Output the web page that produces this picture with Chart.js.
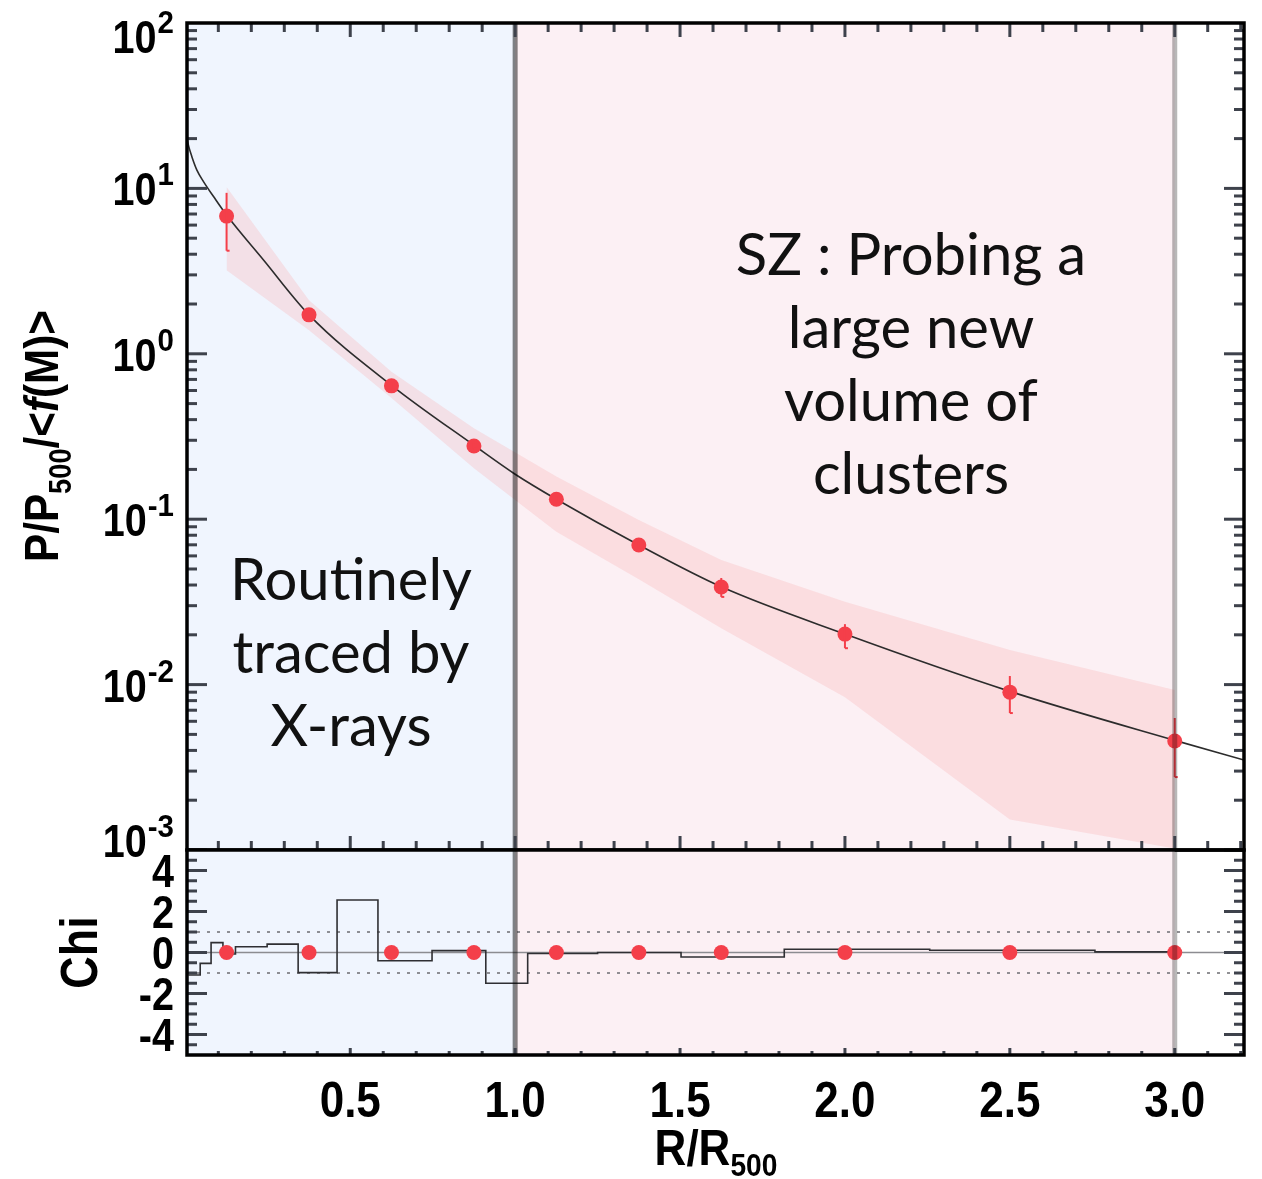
<!DOCTYPE html>
<html>
<head>
<meta charset="utf-8">
<script src="https://cdn.jsdelivr.net/npm/chart.js@4.4.1/dist/chart.umd.min.js"></script>
<style>
  body { margin: 0; background: #fff; }
  #wrap { position: relative; width: 1262px; height: 1179px; overflow: hidden; }
  canvas { position: absolute; left: 0; }
  #topChart { top: 0; }
  #chiChart { top: 840px; }
</style>
</head>
<body>
<div id="wrap">
  <canvas id="topChart" width="1262" height="860"></canvas>
  <canvas id="chiChart" width="1262" height="339"></canvas>
</div>
<script>
// ---- values ----
const X_MIN = 0.005, X_MAX = 3.21;
const Y_MIN = 1e-3, Y_MAX = 1e2;
const CHI_MIN = -5, CHI_MAX = 5;

// SZ stacked pressure points
const szRadius   = [0.125, 0.375, 0.625, 0.875, 1.125, 1.375, 1.625, 2.0, 2.5, 3.0];
const szPressure = [6.8, 1.72, 0.64, 0.277, 0.132, 0.0698, 0.0389, 0.0202, 0.0090, 0.00456];
const szErrLow   = [4.2, 1.62, 0.61, 0.266, 0.127, 0.067, 0.0339, 0.0166, 0.00673, 0.00276];
const szErrHigh  = [9.4, 1.82, 0.67, 0.288, 0.137, 0.073, 0.0441, 0.0232, 0.01127, 0.00628];

// best fit model profile
const modelRadius   = [0.006, 0.01, 0.02, 0.035, 0.055, 0.086, 0.125, 0.237, 0.375, 0.625, 0.875, 1.0, 1.125, 1.375, 1.625, 2.0, 2.5, 3.0, 3.21];
const modelPressure = [19.6, 18.0, 15.5, 12.9, 11.0, 8.9, 6.9, 3.69, 1.72, 0.645, 0.28, 0.187, 0.132, 0.0698, 0.039, 0.0202, 0.0091, 0.0046, 0.0035];

// dispersion envelope
const bandRadius = [0.125, 0.375, 0.625, 0.875, 1.125, 1.375, 1.625, 2.0, 2.5, 3.0];
const bandHigh   = [10.2, 2.11, 0.78, 0.355, 0.181, 0.0989, 0.0566, 0.0317, 0.0162, 0.00927];
const bandLow    = [3.2, 1.39, 0.54, 0.203, 0.084, 0.0433, 0.0219, 0.00838, 0.00153, 0.00102];

// X-ray residual histogram (bin edges + chi per bin)
const chiEdges  = [0.009, 0.045, 0.078, 0.114, 0.152, 0.248, 0.342, 0.46, 0.584, 0.748, 0.911, 1.038, 1.25, 1.503, 1.816, 2.257, 2.758, 3.009];
const chiValues = [-1.1, -0.53, 0.48, -0.07, 0.28, 0.41, -0.98, 2.56, -0.4, 0.09, -1.5, -0.05, 0.0, -0.22, 0.16, 0.11, 0.03];
const szChi     = [0, 0, 0, 0, 0, 0, 0, 0, 0, 0];
const chiRefLevels = [0, 1, -1];

const regionSplit = [1.0, 3.0];

const xTickValues = [0.5, 1.0, 1.5, 2.0, 2.5, 3.0];
const xTickLabels = ['0.5', '1.0', '1.5', '2.0', '2.5', '3.0'];
const yDecades = [2, 1, 0, -1, -2, -3];
const chiTickValues = [4, 2, 0, -2, -4];
const chiTickLabels = ['4', '2', '0', '-2', '-4'];

const xrayNote = ['Routinely', 'traced by', 'X-rays'];
const szNote = ['SZ : Probing a', 'large new', 'volume of', 'clusters'];

// ---- styles ----
const BLUE_BG = 'rgb(240,245,254)';
const PINK_BG = 'rgb(252,240,244)';
const BAND = 'rgba(249,180,183,0.32)';
const RED = 'rgb(244,63,74)';
const TICK = 'rgb(62,66,76)';
const AXFONT = '"Liberation Sans", Arial, sans-serif';
const NOTEFONT = 'Lato, "Open Sans", sans-serif';
const SQ = 0.88;   // narrow look of the axis lettering

function line(ctx, x0, y0, x1, y1) {
  ctx.beginPath(); ctx.moveTo(x0, y0); ctx.lineTo(x1, y1); ctx.stroke();
}

function squash(ctx, text, x, y, sq = SQ) {
  ctx.save(); ctx.translate(x, y); ctx.scale(sq, 1); ctx.fillText(text, 0, 0); ctx.restore();
}

// a run of [text, fontSize, dy, italic] pieces laid out along x
function runWidth(ctx, pieces) {
  let w = 0;
  pieces.forEach(p => {
    ctx.font = (p[3] ? 'italic ' : '') + 'bold ' + p[1] + 'px ' + AXFONT;
    w += ctx.measureText(p[0]).width * SQ;
  });
  return w;
}
function drawRun(ctx, pieces, start) {
  let cx = start;
  ctx.textAlign = 'left';
  pieces.forEach(p => {
    ctx.font = (p[3] ? 'italic ' : '') + 'bold ' + p[1] + 'px ' + AXFONT;
    squash(ctx, p[0], cx, p[2]);
    cx += ctx.measureText(p[0]).width * SQ;
  });
}

const regionsPlugin = {
  id: 'regions',
  beforeDatasetsDraw(chart) {
    const {ctx, chartArea: a, scales: {x}} = chart;
    const x1 = x.getPixelForValue(regionSplit[0]);
    const x3 = x.getPixelForValue(regionSplit[1]);
    ctx.save();
    ctx.fillStyle = BLUE_BG;
    ctx.fillRect(a.left, a.top, x1 - a.left, a.bottom - a.top);
    ctx.fillStyle = PINK_BG;
    ctx.fillRect(x1, a.top, x3 - x1, a.bottom - a.top);
    ctx.restore();
  }
};

function drawSplitLines(chart) {
  const {ctx, chartArea: a, scales: {x}} = chart;
  ctx.save();
  ctx.lineWidth = 5;
  ctx.strokeStyle = 'rgba(0,0,0,0.48)';
  line(ctx, x.getPixelForValue(regionSplit[0]), a.top, x.getPixelForValue(regionSplit[0]), a.bottom);
  ctx.strokeStyle = 'rgba(0,0,0,0.28)';
  line(ctx, x.getPixelForValue(regionSplit[1]), a.top, x.getPixelForValue(regionSplit[1]), a.bottom);
  ctx.restore();
}

const topOverlay = {
  id: 'topOverlay',
  afterDatasetsDraw(chart) {
    const {ctx, scales: {x, y}} = chart;
    ctx.save();
    ctx.strokeStyle = RED;
    ctx.lineWidth = 2;
    szRadius.forEach((r, i) => {
      const px = x.getPixelForValue(r);
      const lo = y.getPixelForValue(szErrLow[i]);
      line(ctx, px, y.getPixelForValue(szErrHigh[i]), px, lo);
      line(ctx, px, lo, px + 3, lo);
    });
    // annotations
    ctx.fillStyle = '#111';
    ctx.textAlign = 'center';
    ctx.font = '58px ' + NOTEFONT;
    xrayNote.forEach((t, i) => ctx.fillText(t, 351, 600 + i * 73));
    szNote.forEach((t, i) => ctx.fillText(t, 911, 275 + i * 73));
    ctx.restore();
    drawSplitLines(chart);
  }
};

const topAxes = {
  id: 'topAxes',
  afterDraw(chart) {
    const {ctx, chartArea: a, scales: {x, y}} = chart;
    ctx.save();
    ctx.strokeStyle = TICK;
    ctx.lineWidth = 3;
    for (let k = 1; k <= 32; k++) {
      const px = x.getPixelForValue(k / 10);
      const len = k % 5 === 0 ? 14 : 9;
      line(ctx, px, a.top, px, a.top + len);
      line(ctx, px, a.bottom, px, a.bottom - len);
    }
    for (let d = -3; d <= 1; d++) {
      for (let m = 1; m <= 9; m++) {
        const py = y.getPixelForValue(m * Math.pow(10, d));
        const len = m === 1 ? 20 : 10;
        line(ctx, a.left, py, a.left + len, py);
        line(ctx, a.right, py, a.right - len, py);
      }
    }
    ctx.strokeStyle = '#000';
    ctx.lineWidth = 3.5;
    ctx.strokeRect(a.left, a.top, a.right - a.left, a.bottom - a.top);

    // decade labels
    ctx.fillStyle = '#000';
    ctx.textAlign = 'right';
    yDecades.forEach((d, i) => {
      let py = y.getPixelForValue(Math.pow(10, d));
      if (i === 0) py += 13;
      if (i === yDecades.length - 1) py -= 10;
      ctx.font = 'bold 31px ' + AXFONT;
      const ew = ctx.measureText(String(d)).width * 0.95;
      squash(ctx, String(d), 174, py - 3, 0.95);
      ctx.font = 'bold 46px ' + AXFONT;
      squash(ctx, '10', 174 - ew - 1, py + 17, 0.86);
    });

    // y title
    ctx.translate(58, 436);
    ctx.rotate(-Math.PI / 2);
    const pieces = [['P/P', 48, 0], ['500', 31, 13], ['/<', 48, 0], ['f', 48, 0, true], ['(M)>', 48, 0]];
    drawRun(ctx, pieces, -runWidth(ctx, pieces) / 2);
    ctx.restore();
  }
};

const chiOverlay = {
  id: 'chiOverlay',
  afterDatasetsDraw(chart) { drawSplitLines(chart); }
};

const chiAxes = {
  id: 'chiAxes',
  afterDraw(chart) {
    const {ctx, chartArea: a, scales: {x, y}} = chart;
    ctx.save();
    ctx.strokeStyle = TICK;
    ctx.lineWidth = 3;
    for (let k = -9; k <= 9; k++) {
      const py = y.getPixelForValue(k / 2);
      const len = k % 4 === 0 ? 20 : 10;
      line(ctx, a.left, py, a.left + len, py);
      line(ctx, a.right, py, a.right - len, py);
    }
    for (let k = 1; k <= 32; k++) {
      const px = x.getPixelForValue(k / 10);
      const len = k % 5 === 0 ? 7 : 4;
      line(ctx, px, a.bottom, px, a.bottom - len);
    }
    ctx.strokeStyle = '#000';
    ctx.lineWidth = 3.5;
    ctx.strokeRect(a.left, a.top, a.right - a.left, a.bottom - a.top);

    ctx.fillStyle = '#000';
    ctx.font = 'bold 46px ' + AXFONT;
    ctx.textAlign = 'right';
    chiTickValues.forEach((v, i) => {
      squash(ctx, chiTickLabels[i], 174, y.getPixelForValue(v) + 16, 0.86);
    });
    ctx.textAlign = 'center';
    ctx.font = 'bold 50px ' + AXFONT;
    xTickValues.forEach((v, i) => {
      squash(ctx, xTickLabels[i], x.getPixelForValue(v), a.bottom + 62);
    });

    // x title
    const xt = [['R/R', 50, 0], ['500', 32, 11]];
    ctx.save();
    ctx.translate(716, a.bottom + 110);
    drawRun(ctx, xt, -runWidth(ctx, xt) / 2);
    ctx.restore();

    // chi title
    ctx.translate(97, y.getPixelForValue(0));
    ctx.rotate(-Math.PI / 2);
    const ct = [['Chi', 51, 0]];
    drawRun(ctx, ct, -runWidth(ctx, ct) / 2);
    ctx.restore();
  }
};

const xy = (xs, ys) => xs.map((v, i) => ({x: v, y: ys[i]}));

new Chart(document.getElementById('topChart'), {
  type: 'line',
  data: {
    datasets: [{
      data: xy(bandRadius, bandHigh),
      borderWidth: 0, pointRadius: 0, fill: false, tension: 0, order: 5
    }, {
      data: xy(bandRadius, bandLow),
      borderWidth: 0, pointRadius: 0, fill: '-1', backgroundColor: BAND, tension: 0, order: 4
    }, {
      data: xy(modelRadius, modelPressure),
      borderColor: '#2c2c2c', borderWidth: 1.6, pointRadius: 0,
      cubicInterpolationMode: 'monotone', fill: false, order: 2
    }, {
      data: xy(szRadius, szPressure),
      showLine: false, pointRadius: 7.5, pointBackgroundColor: RED, pointBorderWidth: 0, order: 1
    }]
  },
  options: {
    responsive: false,
    animation: false,
    devicePixelRatio: 1,
    layout: { padding: { left: 187, right: 18, top: 23, bottom: 10 } },
    plugins: { legend: { display: false }, tooltip: { enabled: false } },
    scales: {
      x: { type: 'linear', min: X_MIN, max: X_MAX, display: false },
      y: { type: 'logarithmic', min: Y_MIN, max: Y_MAX, display: false }
    }
  },
  plugins: [regionsPlugin, topOverlay, topAxes]
});

const refSets = chiRefLevels.map((lv, i) => ({
  data: [{x: X_MIN, y: lv}, {x: X_MAX, y: lv}],
  borderColor: i === 0 ? 'rgb(140,140,145)' : 'rgb(110,110,115)',
  borderWidth: 1.5,
  borderDash: i === 0 ? [] : [3, 7],
  pointRadius: 0, fill: false, order: 5
}));
const stepData = chiEdges.map((e, i) => ({x: e, y: chiValues[Math.min(i, chiValues.length - 1)]}));

new Chart(document.getElementById('chiChart'), {
  type: 'line',
  data: {
    datasets: refSets.concat([{
      data: stepData,
      stepped: 'before', borderColor: '#2f2f33', borderWidth: 1.6, pointRadius: 0, fill: false, order: 2
    }, {
      data: xy(szRadius, szChi),
      showLine: false, pointRadius: 7.5, pointBackgroundColor: RED, pointBorderWidth: 0, order: 1
    }])
  },
  options: {
    responsive: false,
    animation: false,
    devicePixelRatio: 1,
    layout: { padding: { left: 187, right: 18, top: 10, bottom: 124 } },
    plugins: { legend: { display: false }, tooltip: { enabled: false } },
    scales: {
      x: { type: 'linear', min: X_MIN, max: X_MAX, display: false },
      y: { type: 'linear', min: CHI_MIN, max: CHI_MAX, display: false }
    }
  },
  plugins: [regionsPlugin, chiOverlay, chiAxes]
});
</script>
</body>
</html>
